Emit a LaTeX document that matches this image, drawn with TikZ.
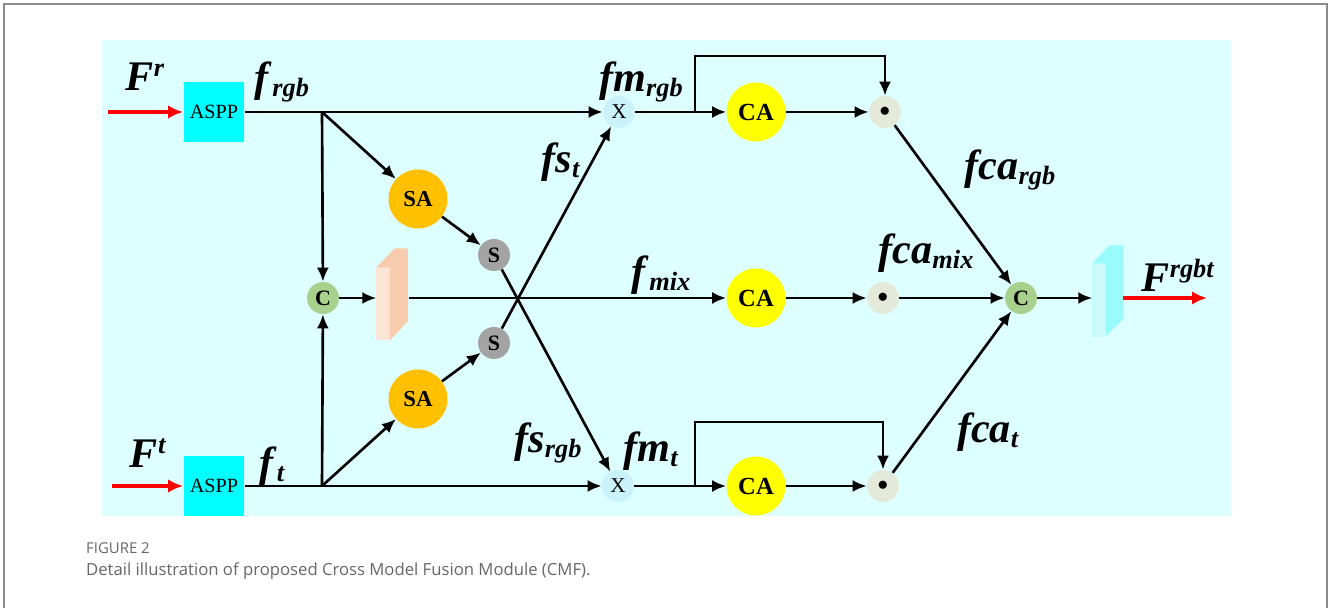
\documentclass[tikz,border=0pt]{standalone}
\usepackage{fontspec}
\setmainfont{Liberation Serif}
\newfontfamily\capfont{Open Sans}
\usetikzlibrary{positioning,arrows.meta}
\definecolor{bgcyan}{HTML}{DDFFFF}
\definecolor{asppcyan}{HTML}{00FFFF}
\definecolor{saorange}{HTML}{FFC000}
\definecolor{cyellow}{HTML}{FFFF00}
\definecolor{catgreen}{HTML}{A9D18E}
\definecolor{sgrey}{HTML}{A3A3A3}
\definecolor{xcyan}{HTML}{C9F2FA}
\definecolor{dotgrey}{HTML}{E3EAD9}
\definecolor{peachfront}{HTML}{FCE4D6}
\definecolor{peachside}{HTML}{F8CBAD}
\definecolor{slabfront}{HTML}{CCF9F9}
\definecolor{slabside}{HTML}{99FBFB}
\definecolor{capgrey}{HTML}{666666}
\definecolor{framegrey}{HTML}{8C8C8C}
\newcommand{\flab}[2]{\textbf{\textit{#1}}\raisebox{-3pt}{\fontsize{15}{15}\selectfont\textbf{\textit{#2}}}}
\newcommand{\Flab}[2]{\textbf{\textit{#1}}\raisebox{8pt}{\fontsize{15}{15}\selectfont\textbf{\textit{#2}}}}

\begin{document}
\begin{tikzpicture}[
    x=0.02cm, y=0.02cm,
    aspp/.style={
        fill=asppcyan,
        minimum width=12.2mm,
        minimum height=12mm,
        inner sep=0pt,
        font=\fontsize{11.5}{11.5}\selectfont
    },
    bigdot/.style={
        circle,
        inner sep=0pt,
        minimum size=11.8mm,
        font=\fontsize{14}{14}\selectfont\bfseries
    },
    smalldot/.style={
        circle,
        inner sep=0pt,
        minimum size=6.4mm,
        font=\fontsize{12.5}{12.5}\selectfont\bfseries
    },
    slab/.style={
        inner sep=0pt,
        outer sep=0pt,
        minimum width=2.7mm,
        minimum height=14.6mm
    },
    lab/.style={inner sep=0pt, font=\fontsize{24}{24}\selectfont},
    arrow/.style={-{Latex[length=2.8mm,width=2.4mm]}, line width=1.5pt},
    inarrow/.style={-{Latex[length=3mm,width=2.7mm]}, line width=2.4pt, red}
]
\useasboundingbox (0,0) rectangle (1333,608);
\fill[bgcyan] (102,92) rectangle (1231,568);
\draw[framegrey, line width=0.9pt] (4,0) -- (4,604) -- (1327,604) -- (1327,0);

\node[aspp] (asppr) at (214,496) {ASPP};
\node[aspp] (asppt) at (214,122) {ASPP};
\node[bigdot, fill=saorange, font=\fontsize{13}{13}\selectfont\bfseries] (sar) at (418,409) {SA};
\node[bigdot, fill=saorange, font=\fontsize{13}{13}\selectfont\bfseries] (sat) at (418,209) {SA};
\node[smalldot, fill=sgrey] (sr) at (494,353) {S};
\node[smalldot, fill=sgrey] (st) at (494,265) {S};
\node[smalldot, fill=catgreen] (cl) at (323,310) {C};
\node[slab, fill=peachfront] (mix) at (383,304) {};
\fill[peachside] (mix.north west) -- ++(18,19) -- ++(13,0) -- (mix.north east) -- cycle;
\fill[peachside] (mix.north east) -- ++(18,19) -- ++(0,-73) -- (mix.south east) -- cycle;
\node[smalldot, fill=xcyan, font=\fontsize{12}{12}\selectfont] (xr) at (619,496) {X};
\node[smalldot, fill=xcyan, font=\fontsize{12}{12}\selectfont] (xt) at (618,122) {X};
\node[bigdot, fill=cyellow] (car) at (756,496) {CA};
\node[bigdot, fill=cyellow] (cam) at (756,310) {CA};
\node[bigdot, fill=cyellow] (cat) at (756,122) {CA};
\node[smalldot, fill=dotgrey] (dotr) at (885,496) {$\bullet$};
\node[smalldot, fill=dotgrey] (dotm) at (883,310) {$\bullet$};
\node[smalldot, fill=dotgrey] (dott) at (883,122) {$\bullet$};
\node[smalldot, fill=catgreen] (cr) at (1021,310) {C};
\node[slab, fill=slabfront, draw=slabside!60, line width=0.3pt] (out) at (1099,308) {};
\fill[slabside] (out.north west) -- ++(17,18) -- ++(14,0) -- (out.north east) -- cycle;
\fill[slabside] (out.north east) -- ++(17,18) -- ++(0,-74) -- (out.south east) -- cycle;

\coordinate (inr) at (108,496);
\coordinate (int) at (112,122);
\coordinate (br) at (322,496);
\coordinate (bt) at (322,122);
\coordinate (mixout) at (409,310);
\coordinate (mr) at (695,496);
\coordinate (mt) at (695,122);
\coordinate (outend) at (1207,310);

\node[lab] (Fr) at (145,531) {\Flab{F}{r}};
\node[lab] (Ft) at (148,155) {\Flab{F}{t}};
\node[lab] (frgb) at (282,526) {\flab{f}{rgb}};
\node[lab] (ft) at (272,142) {\flab{f}{t}};
\node[lab] (fst) at (561,446) {\flab{fs}{t}};
\node[lab] (fsrgb) at (548,165) {\flab{fs}{rgb}};
\node[lab] (fmrgb) at (641,526) {\flab{fm}{rgb}};
\node[lab] (fmt) at (651,157) {\flab{fm}{t}};
\node[lab] (fmix) at (661,333) {\flab{f}{mix}};
\node[lab] (fcargb) at (1010,438) {\flab{fca}{rgb}};
\node[lab] (fcamix) at (926,355) {\flab{fca}{mix}};
\node[lab] (fcat) at (988,176) {\flab{fca}{t}};
\node[lab] (Fout) at (1178,333) {\Flab{F}{rgbt}};

\draw[inarrow] (inr) -- (asppr);
\draw[inarrow] (int) -- (asppt);
\draw[arrow] (asppr) -- (xr);
\draw[arrow] (asppt) -- (xt);
\draw[arrow] (br) -- (cl);
\draw[arrow] (bt) -- (cl);
\draw[arrow] (br) -- (sar);
\draw[arrow] (bt) -- (sat);
\draw[arrow] (sar) -- (sr);
\draw[arrow] (sat) -- (st);
\draw[arrow] (cl) -- (cl -| mix.west);
\draw[arrow] (mixout) -- (cam);
\draw[arrow] (sr) -- (xt);
\draw[arrow] (st) -- (xr);
\draw[arrow] (xr) -- (car);
\draw[arrow] (xt) -- (cat);
\draw[arrow] (mr) -- ++(0,56) -| (dotr);
\draw[arrow] (mt) -- ++(0,64) -| (dott);
\draw[arrow] (car) -- (dotr);
\draw[arrow] (cam) -- (dotm);
\draw[arrow] (cat) -- (dott);
\draw[arrow] (dotr) -- (cr);
\draw[arrow] (dotm) -- (cr);
\draw[arrow] (dott) -- (cr);
\draw[arrow] (cr) -- (cr -| out.west);
\draw[inarrow] (1123,310) -- (outend);

\node[anchor=west, text=capgrey, font=\capfont\fontsize{8.5}{8.5}\selectfont] (figno) at (80,60) {FIGURE 2};
\node[anchor=west, text=capgrey, font=\capfont\fontsize{9.5}{9.5}\selectfont] (caption) at (80,37) {Detail illustration of proposed Cross Model Fusion Module (CMF).};
\end{tikzpicture}
\end{document}
